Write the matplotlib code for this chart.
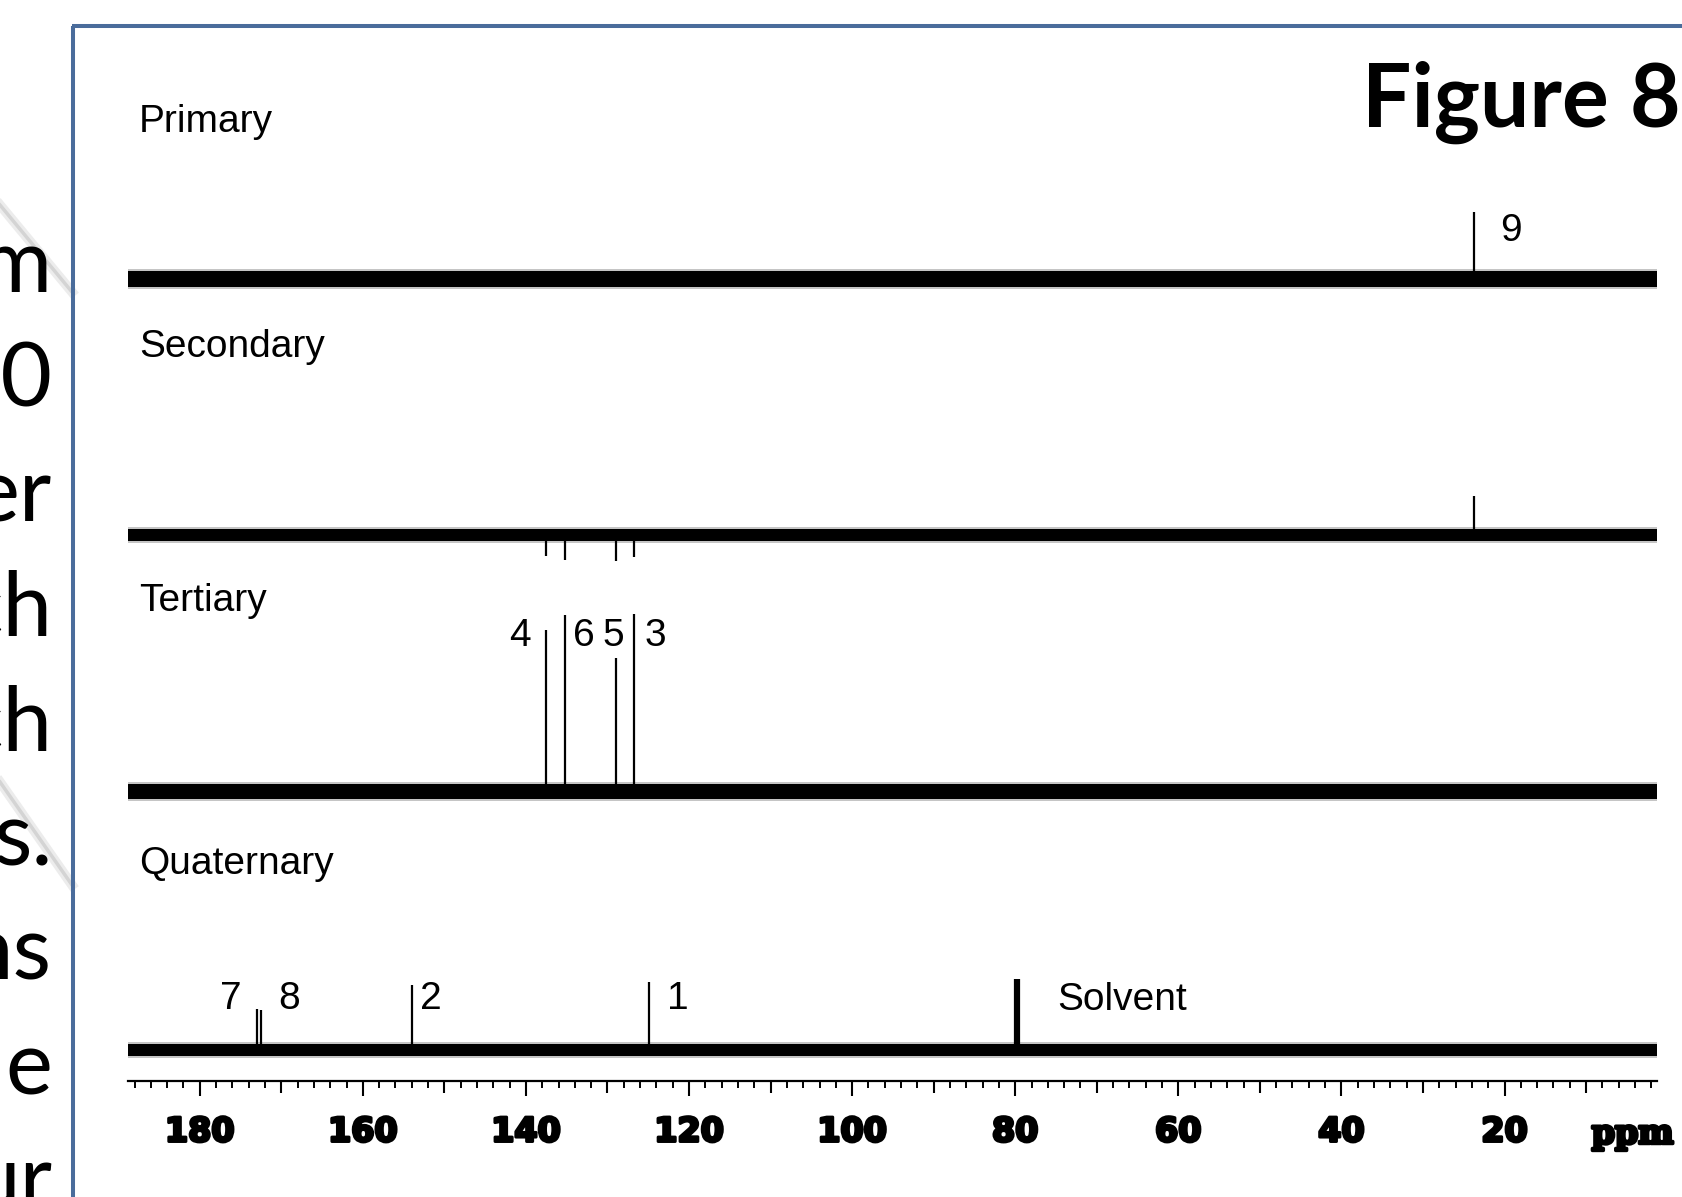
import matplotlib
matplotlib.use("Agg")
import matplotlib.pyplot as plt
import matplotlib.patheffects as pe
from matplotlib.lines import Line2D
from matplotlib.ticker import FixedLocator, NullLocator

# ---------------- data ----------------
# peak positions (ppm) and relative intensities (arbitrary units) per edited spectrum
ppm_primary = [23.8]
int_primary = [67]

ppm_secondary = [137.6, 135.2, 129.0, 126.8, 23.8]
int_secondary = [-21, -25, -26, -22, 39]

ppm_tertiary = [137.6, 135.2, 129.0, 126.8]
int_tertiary = [161, 176, 133, 177]

ppm_quaternary = [173.0, 172.55, 153.95, 124.9, 80.0, 79.75, 79.5]
int_quaternary = [41, 40, 65, 68, 71, 71, 71]

spectrum_names = ["Primary", "Secondary", "Tertiary", "Quaternary"]

# peak annotations: text, ppm position, height above its spectrum baseline, spectrum index
label_texts = ["9", "4", "6", "5", "3", "7", "8", "2", "1", "Solvent"]
label_ppm = [19.2, 140.7, 132.9, 129.3, 124.1, 176.2, 169.1, 151.6, 121.4, 74.8]
label_height = [38, 145, 145, 145, 145, 41, 41, 41, 41, 40]
label_spec = [0, 2, 2, 2, 2, 3, 3, 3, 3, 3]

major_ticks = [180, 160, 140, 120, 100, 80, 60, 40, 20]
tick_labels = ["180", "160", "140", "120", "100", "80", "60", "40", "20"]
mid_ticks = [170, 150, 130, 110, 90, 70, 50, 30, 10]
minor_ticks = list(range(2, 189, 2))

side_words = ["m", "00", "er", "ch", "ch", "s.", "ns", "e", "ur"]

# ---------------- layout ----------------
W, H = 1682, 1197
fig = plt.figure(figsize=(W / 100, H / 100), dpi=100)
fig.patch.set_facecolor("white")

def fx(px):
    return px / W

def fy(py):
    return 1 - py / H

x_left, x_right, y_axis = 128, 1657, 1081
ax = fig.add_axes([fx(x_left), fy(y_axis), (x_right - x_left) / W, y_axis / H])
ax.set_xlim(188.8, 1.3)
ax.set_ylim(0, y_axis)
ax.patch.set_alpha(0)

baselines = [802, 546, 290, 31]
series = [(ppm_primary, int_primary), (ppm_secondary, int_secondary),
          (ppm_tertiary, int_tertiary), (ppm_quaternary, int_quaternary)]
noise_px = [16, 12, 15, 12]

xl = ax.get_xlim()
for (ppms, ints), base, band in zip(series, baselines, noise_px):
    # baseline noise, drawn as a soft-edged dark band
    ax.plot(xl, [base, base], color="#5a5a5a", lw=(band + 4) * 0.72,
            solid_capstyle="round", alpha=0.35, zorder=2)
    ax.plot(xl, [base, base], color="black", lw=band * 0.72,
            solid_capstyle="round", zorder=3)
    for p, h in zip(ppms, ints):
        ax.vlines(p, base, base + h, color="black", lw=1.6, zorder=4)

label_font = dict(family=["Liberation Sans", "DejaVu Sans"], fontsize=28)
for t, p, h, s in zip(label_texts, label_ppm, label_height, label_spec):
    ax.text(p, baselines[s] + h, t, ha="left" if t == "Solvent" else "center",
            va="baseline", color="black", **label_font)

name_y = [949, 724, 470, 207]
for name, yy in zip(spectrum_names, name_y):
    ax.text(187.45, yy, name, ha="left", va="baseline", **label_font)

# axis
for s in ["left", "right", "top"]:
    ax.spines[s].set_visible(False)
ax.spines["bottom"].set_linewidth(1.6)
ax.set_yticks([])
ax.xaxis.set_major_locator(FixedLocator(major_ticks))
ax.set_xticklabels(tick_labels)
ax.xaxis.set_minor_locator(FixedLocator(minor_ticks))
ax.tick_params(axis="x", which="major", direction="out", length=10.8, width=1.5,
               pad=14, labelsize=24)
ax.tick_params(axis="x", which="minor", direction="out", length=5.2, width=1.4)
heavy = [pe.withStroke(linewidth=2.2, foreground="black")]
for lab in ax.get_xticklabels():
    lab.set_fontweight("heavy")
    lab.set_family("DejaVu Sans")
    lab.set_path_effects(heavy)

sec = ax.secondary_xaxis("bottom")
sec.xaxis.set_major_locator(FixedLocator(mid_ticks))
sec.xaxis.set_minor_locator(NullLocator())
sec.tick_params(axis="x", direction="out", length=8.4, width=1.5, labelbottom=False)
sec.spines["bottom"].set_visible(False)

ax.text(4.3, -53, "ppm", ha="center", va="center", fontsize=24,
        family="DejaVu Serif", fontweight="heavy", clip_on=False,
        path_effects=[pe.withStroke(linewidth=2.5, foreground="black")])

# title
fig.text(fx(1362), fy(127), "Figure 8", ha="left", va="baseline",
         fontsize=63, family=["Lato", "DejaVu Sans"], fontweight="bold")

# slide frame
frame_c = "#4a6c9b"
fig.add_artist(Line2D([fx(73), fx(73)], [fy(26), fy(1210)], color=frame_c, lw=2.9,
                      transform=fig.transFigure, solid_capstyle="butt"))
fig.add_artist(Line2D([fx(71.5), fx(1700)], [fy(26), fy(26)], color=frame_c, lw=2.9,
                      transform=fig.transFigure, solid_capstyle="butt"))

# faint decorative streaks of the slide background
for (x0, y0, x1, y1) in [(0, 205, 72, 292), (0, 782, 72, 885)]:
    fig.add_artist(Line2D([fx(x0), fx(x1)], [fy(y0), fy(y1)], color="#ececec",
                          lw=7, transform=fig.transFigure, zorder=0))
    fig.add_artist(Line2D([fx(x0), fx(x1)], [fy(y0), fy(y1)], color="#d4d4d4",
                          lw=2.5, transform=fig.transFigure, zorder=0))

# clipped slide text at the left edge
for i, w in enumerate(side_words):
    fig.text(fx(52), fy(292 + 114.6 * i), w, ha="right", va="baseline",
             fontsize=64, family=["Lato", "DejaVu Sans"], color="black", zorder=5)

fig.savefig("out.png", dpi=100, facecolor="white")
